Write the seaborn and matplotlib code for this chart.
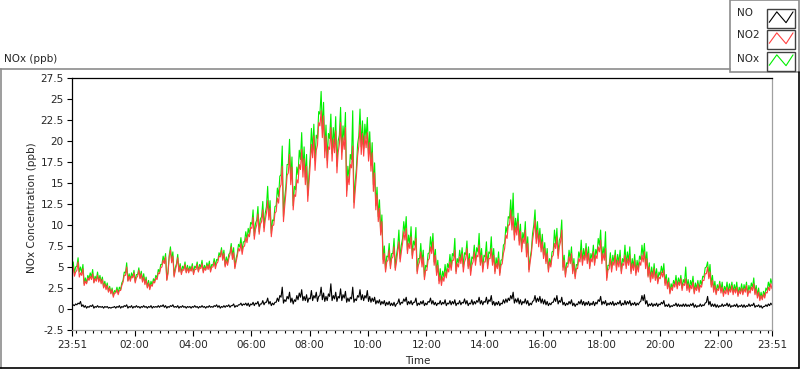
import numpy as np
import pandas as pd
import matplotlib
matplotlib.use("Agg")
import matplotlib.pyplot as plt
import matplotlib.dates as mdates
from matplotlib.lines import Line2D
from matplotlib.patches import Rectangle
import seaborn as sns

# NOx logger, one reading every 2.5 minutes, 23:51 -> 23:51 next day
# one row per hour (24 readings), last value is the closing reading
start_time = "2000-01-01 23:51"
step_seconds = 150

no2 = [
    4.2, 5.0, 3.9, 4.4, 4.6, 5.6, 3.8, 4.3, 4.0, 4.8, 2.8, 3.3, 3.0, 3.7, 3.4, 3.9, 3.5, 4.2, 3.1, 3.6, 3.3, 4.0, 3.2, 3.7,
    3.0, 3.5, 2.5, 3.0, 2.3, 2.8, 2.0, 2.5, 1.8, 2.3, 1.4, 1.9, 1.9, 2.3, 1.7, 2.2, 2.2, 2.8, 3.2, 4.0, 4.0, 5.0, 3.3, 3.9,
    3.3, 3.9, 3.7, 4.3, 3.1, 3.7, 3.9, 4.6, 3.6, 4.2, 3.2, 3.8, 2.9, 3.5, 2.5, 3.1, 2.3, 2.9, 2.7, 3.3, 3.1, 3.7, 3.5, 4.3,
    4.2, 4.9, 5.0, 5.8, 5.4, 6.2, 3.4, 4.2, 6.2, 7.0, 5.5, 6.3, 3.8, 4.6, 5.2, 6.1, 4.4, 5.1, 4.1, 4.7, 4.6, 5.3, 4.3, 4.9,
    4.3, 4.8, 4.5, 5.1, 4.1, 4.7, 4.7, 5.3, 4.4, 5.0, 4.8, 5.4, 4.3, 4.9, 4.6, 5.2, 4.7, 5.3, 4.4, 5.0, 5.0, 5.6, 4.8, 5.4,
    5.6, 6.3, 6.2, 7.0, 5.8, 6.6, 5.0, 5.8, 5.2, 6.0, 6.5, 7.4, 5.9, 6.7, 4.8, 5.6, 6.3, 7.2, 6.9, 7.8, 6.5, 7.4, 7.5, 8.5,
    7.9, 8.9, 8.6, 9.7, 9.6, 10.9, 8.3, 9.5, 10.0, 11.3, 8.9, 10.1, 10.4, 11.8, 9.2, 10.6, 11.4, 12.9, 10.6, 12.0, 8.6, 9.9, 10.0, 11.4,
    11.6, 13.2, 12.6, 14.4, 14.8, 17.0, 10.4, 12.2, 13.8, 15.9, 16.2, 18.4, 14.8, 16.9, 11.8, 13.6, 13.4, 15.4, 15.0, 17.2, 16.6, 19.0, 15.7, 17.9,
    14.8, 17.0, 12.8, 14.9, 17.1, 19.6, 18.0, 20.6, 16.5, 18.9, 19.5, 22.2, 21.8, 23.6, 20.4, 23.0, 18.0, 20.6, 16.8, 19.3, 19.0, 21.6, 17.6, 20.2,
    18.6, 21.2, 16.2, 18.6, 19.6, 22.2, 17.8, 20.4, 19.0, 21.6, 13.4, 15.8, 14.8, 17.2, 16.8, 19.4, 12.0, 14.0, 15.8, 18.2, 19.4, 21.9, 18.4, 20.9,
    18.2, 20.6, 19.2, 21.0, 17.6, 19.8, 16.4, 18.6, 14.0, 16.2, 11.8, 13.6, 10.4, 12.0, 8.8, 10.4, 5.4, 6.6, 4.4, 5.6, 5.8, 7.0, 4.8, 6.0,
    6.2, 7.4, 4.6, 5.6, 6.8, 8.0, 5.6, 6.8, 7.8, 9.2, 8.2, 9.6, 6.6, 7.8, 7.2, 8.6, 6.0, 7.2, 7.0, 8.4, 4.2, 5.2, 5.6, 6.8,
    5.0, 6.2, 3.5, 4.6, 4.6, 5.8, 6.0, 7.4, 6.6, 8.0, 5.2, 6.4, 4.0, 5.2, 3.0, 4.0, 2.8, 3.8, 3.3, 4.4, 3.7, 4.8, 4.4, 5.6,
    4.6, 5.8, 5.8, 7.0, 4.2, 5.4, 5.0, 6.2, 5.4, 6.6, 4.4, 5.6, 6.0, 7.2, 4.8, 6.0, 4.0, 5.2, 5.6, 6.8, 5.2, 6.4, 6.2, 7.6,
    5.2, 6.4, 4.4, 5.6, 5.6, 6.8, 4.8, 6.0, 6.0, 7.2, 5.2, 6.4, 4.2, 5.4, 4.8, 6.0, 4.0, 5.2, 5.4, 6.6, 7.2, 8.8, 8.4, 10.0,
    10.0, 11.8, 9.4, 11.0, 8.2, 9.8, 8.8, 10.4, 7.6, 9.2, 6.8, 8.4, 7.8, 9.4, 6.2, 7.8, 4.4, 5.6, 6.6, 8.2, 9.2, 10.6, 7.8, 9.4,
    7.4, 8.8, 6.8, 8.0, 6.0, 7.2, 5.4, 6.6, 4.4, 5.6, 5.0, 6.2, 6.4, 7.8, 7.2, 8.6, 6.0, 7.4, 8.0, 9.4, 4.6, 5.8, 3.8, 5.0,
    5.0, 6.2, 5.4, 6.6, 4.2, 5.4, 3.6, 4.8, 4.8, 6.0, 5.6, 7.0, 5.2, 6.4, 5.8, 7.2, 5.4, 6.6, 4.8, 6.0, 5.6, 6.8, 5.2, 6.4,
    6.0, 7.4, 6.8, 8.2, 5.4, 6.6, 5.8, 7.2, 3.4, 4.6, 4.8, 6.0, 4.4, 5.6, 5.2, 6.4, 4.6, 5.8, 5.0, 6.2, 4.2, 5.4, 5.2, 6.4,
    4.8, 6.0, 5.2, 6.4, 4.2, 5.4, 4.6, 5.8, 4.0, 5.2, 4.4, 5.6, 5.2, 6.4, 5.6, 6.8, 4.8, 6.0, 3.8, 5.0, 3.2, 4.4, 3.6, 4.8,
    3.4, 4.2, 3.0, 3.8, 3.6, 4.4, 3.8, 4.6, 2.8, 3.6, 2.4, 3.2, 1.8, 2.6, 2.2, 3.0, 2.6, 3.4, 2.4, 3.2, 2.8, 3.6, 2.2, 3.0,
    2.8, 3.6, 2.2, 3.0, 2.0, 2.8, 2.4, 3.2, 1.8, 2.6, 2.2, 3.0, 2.0, 2.8, 2.6, 3.4, 3.4, 4.2, 4.2, 5.0, 3.6, 4.4, 2.6, 3.4,
    2.0, 2.8, 1.7, 2.4, 2.2, 3.0, 1.9, 2.6, 1.5, 2.2, 1.8, 2.6, 1.7, 2.4, 2.0, 2.8, 1.7, 2.4, 1.9, 2.6, 1.5, 2.2, 1.8, 2.5,
    1.7, 2.4, 2.0, 2.8, 1.5, 2.2, 1.9, 2.6, 2.2, 3.0, 1.7, 2.4, 1.3, 2.0, 1.0, 1.6, 1.1, 1.8, 1.3, 2.0, 1.9, 2.6, 2.2, 3.0,
    2.4,
]

nox = [
    4.6, 5.6, 4.3, 5.0, 5.1, 6.1, 4.4, 5.0, 4.3, 5.3, 3.0, 3.7, 3.1, 4.0, 3.6, 4.3, 3.8, 4.7, 3.2, 3.9, 3.5, 4.4, 3.4, 4.0,
    3.2, 3.8, 2.6, 3.3, 2.5, 3.1, 2.1, 2.7, 1.9, 2.5, 1.6, 2.2, 2.0, 2.6, 1.9, 2.6, 2.3, 3.1, 3.4, 4.4, 4.3, 5.5, 3.4, 4.2,
    3.5, 4.3, 3.8, 4.6, 3.3, 4.1, 4.1, 4.9, 3.7, 4.5, 3.4, 4.2, 3.1, 3.8, 2.6, 3.4, 2.5, 3.3, 2.8, 3.6, 3.3, 4.0, 3.7, 4.7,
    4.4, 5.3, 5.3, 6.3, 5.6, 6.6, 3.5, 4.5, 6.4, 7.4, 5.8, 6.8, 4.0, 4.9, 5.4, 6.5, 4.5, 5.4, 4.3, 5.1, 4.8, 5.6, 4.4, 5.2,
    4.5, 5.1, 4.6, 5.4, 4.3, 5.1, 4.9, 5.6, 4.5, 5.3, 5.0, 5.8, 4.5, 5.2, 4.7, 5.5, 4.9, 5.7, 4.6, 5.3, 5.2, 6.0, 5.1, 5.9,
    5.8, 6.7, 6.3, 7.3, 6.0, 7.0, 5.2, 6.2, 5.5, 6.5, 6.7, 7.8, 6.3, 7.3, 5.0, 6.0, 6.6, 7.7, 7.4, 8.5, 6.9, 8.0, 8.0, 9.2,
    8.3, 9.6, 8.9, 10.3, 10.1, 11.8, 8.7, 10.2, 10.6, 12.2, 9.2, 10.7, 11.0, 12.8, 9.7, 11.4, 12.2, 14.6, 11.2, 12.9, 9.0, 10.6, 10.5, 12.2,
    12.3, 14.4, 13.4, 15.8, 16.0, 19.4, 11.0, 13.2, 14.6, 17.2, 17.2, 20.2, 15.5, 18.1, 12.3, 14.6, 14.2, 16.9, 16.0, 18.9, 17.8, 21.0, 16.6, 19.3,
    15.7, 18.4, 13.5, 16.0, 18.2, 21.5, 18.9, 22.0, 17.7, 20.7, 20.3, 23.5, 23.2, 25.9, 21.4, 24.6, 18.8, 21.9, 17.7, 20.9, 20.3, 23.2, 18.5, 21.6,
    19.6, 22.9, 17.0, 20.0, 20.7, 24.0, 18.7, 21.8, 20.1, 23.4, 14.1, 17.0, 15.6, 18.4, 17.8, 23.6, 12.7, 15.1, 16.7, 19.6, 20.6, 23.8, 19.3, 22.4,
    19.1, 22.0, 20.3, 22.8, 18.4, 21.1, 17.1, 19.8, 14.8, 17.4, 12.3, 14.5, 11.0, 13.0, 9.2, 11.2, 5.9, 7.5, 4.7, 6.3, 6.2, 7.8, 5.1, 6.6,
    6.6, 8.4, 4.9, 6.4, 7.4, 9.4, 6.0, 7.6, 8.4, 10.4, 9.0, 11.0, 7.0, 8.8, 7.7, 9.8, 6.4, 8.1, 7.6, 9.7, 4.5, 6.0, 6.0, 7.8,
    5.5, 7.0, 3.8, 5.2, 5.0, 6.6, 6.7, 8.6, 7.1, 9.0, 5.6, 7.1, 4.3, 5.8, 3.4, 4.8, 3.2, 4.5, 3.8, 5.3, 4.0, 5.4, 4.9, 6.5,
    5.0, 6.6, 6.3, 8.4, 4.5, 6.0, 5.5, 7.0, 5.8, 7.3, 5.0, 6.7, 6.5, 8.1, 5.1, 6.6, 4.5, 6.2, 6.0, 7.6, 5.7, 7.3, 6.8, 9.0,
    5.6, 7.2, 4.8, 6.4, 6.2, 8.0, 5.2, 6.8, 6.6, 8.6, 5.6, 7.2, 4.5, 6.1, 5.1, 6.8, 4.3, 5.8, 5.9, 7.6, 7.8, 9.8, 9.1, 11.0,
    10.8, 13.0, 10.4, 13.8, 8.8, 10.8, 9.4, 11.4, 8.1, 10.1, 7.2, 9.1, 8.3, 10.4, 6.7, 8.6, 4.7, 6.1, 7.0, 9.0, 10.0, 11.8, 8.4, 10.4,
    8.0, 9.6, 7.3, 8.9, 6.4, 7.9, 5.7, 7.2, 4.7, 6.0, 5.3, 6.8, 6.9, 9.4, 7.7, 9.6, 6.4, 8.2, 8.6, 10.6, 5.0, 6.4, 4.1, 5.5,
    5.4, 7.0, 5.9, 7.4, 4.5, 6.0, 3.9, 5.3, 5.2, 6.8, 6.1, 8.2, 5.6, 7.2, 6.1, 7.8, 5.8, 7.4, 5.1, 6.6, 6.0, 7.6, 5.5, 7.1,
    6.5, 8.4, 7.6, 9.4, 5.8, 7.4, 6.3, 9.2, 3.7, 5.2, 5.2, 6.7, 4.8, 6.4, 5.5, 7.0, 5.0, 6.5, 5.5, 7.0, 4.5, 6.0, 5.6, 7.6,
    5.2, 6.8, 5.7, 7.4, 4.5, 6.0, 5.0, 6.5, 4.3, 5.8, 4.8, 6.3, 5.9, 7.6, 6.2, 7.8, 5.3, 6.8, 4.0, 5.5, 3.5, 5.0, 3.8, 5.4,
    3.7, 4.8, 3.3, 4.4, 4.0, 5.1, 4.3, 5.4, 3.1, 4.1, 2.7, 3.7, 2.0, 3.0, 2.5, 3.4, 2.9, 4.0, 2.7, 3.7, 3.1, 4.0, 2.5, 3.5,
    3.1, 5.0, 2.5, 3.5, 2.3, 3.4, 2.8, 3.9, 2.0, 3.1, 2.4, 3.4, 2.3, 3.4, 2.9, 3.9, 3.8, 4.9, 5.0, 5.6, 4.1, 5.3, 2.9, 4.0,
    2.3, 3.3, 1.9, 2.9, 2.4, 3.3, 2.2, 3.2, 1.8, 2.7, 2.2, 3.2, 2.0, 3.0, 2.2, 3.2, 2.0, 2.9, 2.2, 3.2, 1.7, 2.6, 2.1, 3.0,
    1.9, 2.9, 2.2, 3.2, 1.8, 2.8, 2.2, 3.1, 2.6, 3.7, 1.9, 2.8, 1.6, 2.5, 1.2, 2.0, 1.2, 2.1, 1.6, 2.5, 2.2, 3.2, 2.6, 3.6,
    3.0,
]

no = [
    0.3, 0.5, 0.4, 0.6, 0.5, 0.7, 0.6, 0.9, 0.3, 0.5, 0.2, 0.4, 0.1, 0.3, 0.2, 0.4, 0.3, 0.5, 0.1, 0.3, 0.2, 0.4, 0.2, 0.3,
    0.2, 0.3, 0.1, 0.3, 0.2, 0.3, 0.1, 0.2, 0.1, 0.2, 0.2, 0.3, 0.1, 0.3, 0.2, 0.4, 0.1, 0.3, 0.2, 0.4, 0.3, 0.5, 0.1, 0.3,
    0.2, 0.4, 0.1, 0.3, 0.2, 0.4, 0.2, 0.3, 0.1, 0.3, 0.2, 0.4, 0.2, 0.3, 0.1, 0.3, 0.2, 0.4, 0.1, 0.3, 0.2, 0.3, 0.2, 0.4,
    0.2, 0.4, 0.3, 0.5, 0.2, 0.4, 0.1, 0.3, 0.2, 0.4, 0.3, 0.5, 0.2, 0.3, 0.2, 0.4, 0.1, 0.3, 0.2, 0.4, 0.2, 0.3, 0.1, 0.3,
    0.2, 0.3, 0.1, 0.3, 0.2, 0.4, 0.2, 0.3, 0.1, 0.3, 0.2, 0.4, 0.2, 0.3, 0.1, 0.3, 0.2, 0.4, 0.2, 0.3, 0.2, 0.4, 0.3, 0.5,
    0.2, 0.4, 0.1, 0.3, 0.2, 0.4, 0.2, 0.4, 0.3, 0.5, 0.2, 0.4, 0.4, 0.6, 0.2, 0.4, 0.3, 0.5, 0.5, 0.7, 0.4, 0.6, 0.5, 0.7,
    0.4, 0.7, 0.3, 0.6, 0.5, 0.8, 0.4, 0.7, 0.6, 0.9, 0.3, 0.6, 0.6, 1.0, 0.5, 0.8, 0.8, 1.3, 0.6, 0.9, 0.4, 0.7, 0.5, 0.8,
    0.8, 1.3, 0.9, 1.6, 1.4, 2.6, 0.7, 1.1, 0.9, 1.5, 1.2, 2.0, 0.8, 1.3, 0.6, 1.1, 0.9, 1.6, 1.1, 1.9, 1.4, 2.3, 1.0, 1.5,
    1.0, 1.7, 0.8, 1.3, 1.2, 2.2, 1.0, 1.6, 1.3, 2.0, 0.9, 1.5, 1.6, 2.6, 1.1, 1.9, 0.9, 1.5, 1.0, 1.8, 1.5, 3.0, 1.0, 1.6,
    1.2, 2.0, 0.9, 1.5, 1.3, 2.4, 1.0, 1.7, 1.3, 2.1, 0.8, 1.3, 0.9, 1.4, 1.2, 2.6, 0.8, 1.2, 1.0, 1.6, 1.4, 2.3, 1.1, 1.7,
    1.0, 1.6, 1.3, 2.2, 0.9, 1.5, 0.8, 1.3, 0.9, 1.4, 0.6, 1.0, 0.7, 1.1, 0.5, 0.9, 0.6, 1.0, 0.4, 0.8, 0.5, 0.9, 0.4, 0.7,
    0.4, 0.8, 0.3, 0.6, 0.7, 1.2, 0.5, 0.8, 0.7, 1.2, 0.9, 1.4, 0.5, 0.9, 0.6, 1.0, 0.5, 0.8, 0.8, 1.3, 0.4, 0.7, 0.5, 0.9,
    0.6, 1.0, 0.4, 0.7, 0.5, 0.9, 0.8, 1.3, 0.6, 1.0, 0.5, 0.8, 0.4, 0.7, 0.6, 1.0, 0.5, 0.8, 0.6, 1.1, 0.4, 0.7, 0.6, 1.0,
    0.5, 0.9, 0.6, 1.1, 0.4, 0.7, 0.6, 1.0, 0.5, 0.8, 0.7, 1.2, 0.6, 1.0, 0.4, 0.7, 0.6, 1.1, 0.5, 0.9, 0.6, 1.0, 0.8, 1.4,
    0.6, 1.0, 0.5, 0.9, 0.8, 1.4, 0.6, 1.1, 0.9, 1.6, 0.5, 0.9, 0.4, 0.8, 0.5, 0.9, 0.4, 0.7, 0.6, 1.1, 0.7, 1.2, 0.8, 1.3,
    1.0, 1.6, 1.2, 2.0, 0.7, 1.2, 0.8, 1.3, 0.6, 1.1, 0.5, 0.9, 0.7, 1.2, 0.6, 1.0, 0.4, 0.7, 0.5, 0.9, 1.0, 1.6, 0.8, 1.3,
    0.9, 1.5, 0.7, 1.2, 0.6, 1.1, 0.5, 0.9, 0.4, 0.7, 0.5, 0.8, 0.8, 1.3, 0.9, 1.6, 0.6, 1.0, 0.8, 1.4, 0.5, 0.8, 0.4, 0.7,
    0.5, 0.9, 0.6, 1.1, 0.4, 0.7, 0.3, 0.6, 0.5, 0.9, 0.6, 1.1, 0.5, 0.9, 0.4, 0.8, 0.5, 0.9, 0.4, 0.7, 0.5, 0.9, 0.4, 0.8,
    0.6, 1.1, 0.9, 1.5, 0.5, 0.9, 0.6, 1.0, 0.4, 0.7, 0.5, 0.8, 0.5, 0.9, 0.4, 0.7, 0.5, 0.8, 0.6, 1.0, 0.4, 0.7, 0.5, 1.0,
    0.5, 0.9, 0.6, 1.0, 0.4, 0.7, 0.5, 0.8, 0.4, 0.7, 0.5, 0.8, 0.9, 1.6, 1.0, 1.7, 0.6, 1.0, 0.3, 0.6, 0.4, 0.7, 0.3, 0.6,
    0.4, 0.7, 0.3, 0.6, 0.5, 0.8, 0.6, 1.0, 0.3, 0.5, 0.3, 0.6, 0.2, 0.4, 0.3, 0.5, 0.4, 0.7, 0.3, 0.6, 0.3, 0.5, 0.3, 0.6,
    0.3, 0.6, 0.3, 0.5, 0.3, 0.6, 0.4, 0.7, 0.2, 0.5, 0.2, 0.4, 0.3, 0.6, 0.3, 0.5, 0.4, 0.7, 0.8, 1.5, 0.5, 0.9, 0.3, 0.6,
    0.3, 0.6, 0.2, 0.5, 0.2, 0.4, 0.3, 0.6, 0.3, 0.5, 0.4, 0.7, 0.3, 0.6, 0.2, 0.4, 0.3, 0.5, 0.3, 0.6, 0.2, 0.4, 0.3, 0.5,
    0.2, 0.5, 0.2, 0.4, 0.3, 0.6, 0.3, 0.5, 0.4, 0.7, 0.2, 0.4, 0.3, 0.5, 0.2, 0.4, 0.1, 0.3, 0.3, 0.5, 0.3, 0.6, 0.4, 0.7,
    0.5,
]

y_ticks = [-2.5, 0, 2.5, 5, 7.5, 10, 12.5, 15, 17.5, 20, 22.5, 25, 27.5]
x_major = ["2000-01-01 23:51", "2000-01-02 02:00", "2000-01-02 04:00",
           "2000-01-02 06:00", "2000-01-02 08:00", "2000-01-02 10:00",
           "2000-01-02 12:00", "2000-01-02 14:00", "2000-01-02 16:00",
           "2000-01-02 18:00", "2000-01-02 20:00", "2000-01-02 22:00",
           "2000-01-02 23:51"]

series_names = ["NO", "NO2", "NOx"]
series_colors = {"NO": "#000000", "NO2": "#ff4040", "NOx": "#00f000"}

W, H = 800, 369


def fx(x):
    return x / W


def fy(y):
    return 1 - y / H


def main():
    times = pd.date_range(start_time, periods=len(no2), freq=f"{step_seconds}s")
    df = pd.DataFrame({"Time": times, "NO": no, "NO2": no2, "NOx": nox})

    sns.set_style("white")
    plt.rcParams["font.family"] = ["DejaVu Sans"]
    plt.rcParams["font.size"] = 7.5

    fig = plt.figure(figsize=(W / 100, H / 100), dpi=100)
    ax = fig.add_axes([fx(72), fy(330), 700 / W, 252 / H])

    # green under red under black, as in the original
    for name in ["NOx", "NO2", "NO"]:
        sns.lineplot(data=df, x="Time", y=name, color=series_colors[name],
                     linewidth=0.8, estimator=None, legend=False, ax=ax)

    t0 = pd.Timestamp(x_major[0])
    t1 = pd.Timestamp(x_major[-1])
    ax.set_xlim(t0, t1)
    ax.set_ylim(-2.5, 27.5)
    ax.set_yticks(y_ticks)
    ax.set_yticklabels([f"{v:g}" for v in y_ticks])
    ax.set_xticks(pd.to_datetime(x_major))
    ax.xaxis.set_major_formatter(mdates.DateFormatter("%H:%M"))
    minor = pd.date_range("2000-01-02 00:00", t1, freq=pd.Timedelta(minutes=120 / 7))
    ax.set_xticks(minor, minor=True)

    ax.tick_params(axis="y", which="major", left=True, length=3.5, width=0.8,
                   color="black", pad=2.5, labelsize=7.5)
    ax.tick_params(axis="x", which="major", bottom=True, length=4, width=0.8,
                   color="black", pad=3, labelsize=7.5)
    ax.tick_params(axis="x", which="minor", bottom=True, length=2.2, width=0.8,
                   color="black")

    ax.set_xlabel("")
    ax.set_ylabel("")
    ax.grid(False)
    for side, col in [("left", "black"), ("top", "black"),
                      ("right", "#a0a0a0"), ("bottom", "#a0a0a0")]:
        ax.spines[side].set_visible(True)
        ax.spines[side].set_color(col)
        ax.spines[side].set_linewidth(0.9)

    fig.text(fx(418), fy(361), "Time", ha="center", va="center", fontsize=7.5)
    fig.text(fx(32), fy(208), "NOx Concentration (ppb)", rotation=90,
             ha="center", va="center", fontsize=7.5)
    fig.text(fx(4), fy(59), "NOx (ppb)", ha="left", va="center", fontsize=7.5)

    # panel frame
    gray = "#8c8c8c"
    fig.add_artist(Line2D([fx(0), fx(730)], [fy(69), fy(69)], color=gray, lw=1.2))
    fig.add_artist(Line2D([fx(0.6), fx(0.6)], [fy(69), fy(368)], color=gray, lw=1.2))
    fig.add_artist(Line2D([fx(0), fx(799)], [fy(368), fy(368)], color="black", lw=1.2))
    fig.add_artist(Line2D([fx(798.5), fx(798.5)], [fy(72), fy(368)], color="black", lw=1.2))

    # legend box
    fig.add_artist(Rectangle((fx(730), fy(72)), 69 / W, 72 / H, transform=fig.transFigure,
                             facecolor="white", edgecolor=gray, lw=1.2))
    text_y = [13, 35, 59]
    box_top = [9, 30, 52]
    for name, ty, by in zip(series_names, text_y, box_top):
        fig.text(fx(737), fy(ty), name, ha="left", va="center", fontsize=7.5)
        bw, bh = 28, 19
        fig.add_artist(Rectangle((fx(767), fy(by + bh)), bw / W, bh / H,
                                 transform=fig.transFigure, facecolor="white",
                                 edgecolor="#404040", lw=1.0))
        zx = [767 + bw * f for f in (0.08, 0.35, 0.68, 0.93)]
        zy = [by + bh * f for f in (0.7, 0.15, 0.72, 0.15)]
        fig.add_artist(Line2D([fx(v) for v in zx], [fy(v) for v in zy],
                              color=series_colors[name], lw=0.8))

    fig.savefig("out.png", dpi=100)


if __name__ == "__main__":
    main()
